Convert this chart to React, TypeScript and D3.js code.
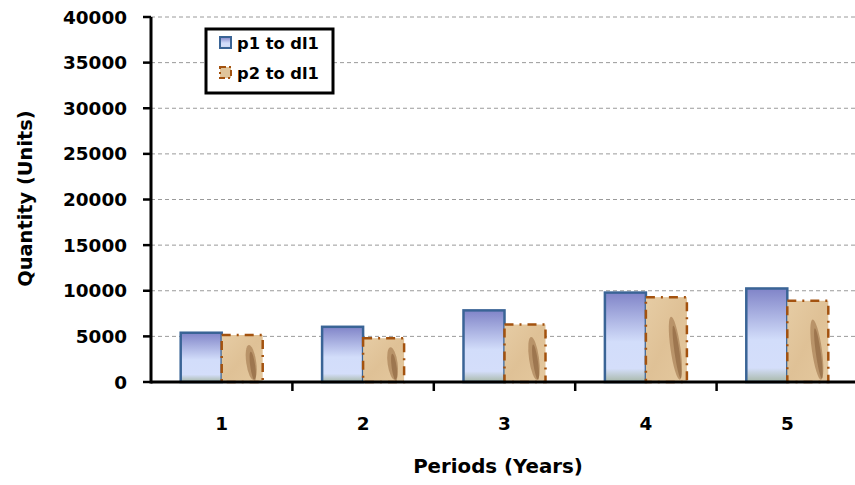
import React from "react";
import * as d3 from "d3";

const categories = ["1", "2", "3", "4", "5"];
const seriesNames = ["p1 to dl1", "p2 to dl1"];
const p1Values = [5400, 6050, 7850, 9800, 10250];
const p2Values = [5150, 4800, 6300, 9300, 8900];
const yTicks = [0, 5000, 10000, 15000, 20000, 25000, 30000, 35000, 40000];

const W = 855;
const H = 485;
const FONT = "'DejaVu Sans', sans-serif";

export default function App() {
  const left = 151;
  const top = 17;
  const bottom = 382;
  const right = 858;

  const y = d3.scaleLinear().domain([0, 40000]).range([bottom, top]);
  const x = d3.scaleBand<string>().domain(categories).range([left, right]).paddingInner(0).paddingOuter(0);
  const bw = x.bandwidth();
  const barW = bw * 0.29;

  const feather = (bx: number, by: number, w: number, h: number, i: number) => {
    const cx = bx + w * 0.72;
    const fh = Math.min(h * 0.75, 75);
    const cy = bottom - fh / 2 - 2;
    return (
      <g clipPath={`url(#clip-p2-${i})`}>
        <ellipse cx={cx} cy={cy} rx={5} ry={fh / 2} fill="#8a5a30" opacity={0.45} transform={`rotate(-8 ${cx} ${cy})`} />
        <ellipse cx={cx + 1} cy={cy + 4} rx={2.5} ry={fh / 2.4} fill="#6b3f1c" opacity={0.35} transform={`rotate(-8 ${cx} ${cy})`} />
      </g>
    );
  };

  return (
    <svg width={W} height={H} style={{ position: "absolute", left: 0, top: 0, background: "#fff" }}>
      <defs>
        <linearGradient id="gBlue" x1="0" y1="0" x2="0" y2="1">
          <stop offset="0" stopColor="#8084c8" />
          <stop offset="0.55" stopColor="#d2ddfa" />
          <stop offset="0.85" stopColor="#d4defa" />
          <stop offset="1" stopColor="#a8b8a8" />
        </linearGradient>
        <linearGradient id="gTan" x1="0" y1="0" x2="1" y2="1">
          <stop offset="0" stopColor="#e6cca4" />
          <stop offset="0.5" stopColor="#dfc196" />
          <stop offset="1" stopColor="#e4c89e" />
        </linearGradient>
        {categories.map((c, i) => {
          const bx = (x(c) as number) + bw / 2;
          const by = y(p2Values[i]);
          return (
            <clipPath id={`clip-p2-${i}`} key={c}>
              <rect x={bx} y={by} width={barW} height={bottom - by} />
            </clipPath>
          );
        })}
      </defs>

      {/* gridlines */}
      {yTicks.filter((t) => t > 0).map((t) => (
        <line key={t} x1={left} x2={W} y1={y(t)} y2={y(t)} stroke="#9a9a9a" strokeWidth={1} strokeDasharray="4 3" />
      ))}

      {/* bars */}
      {categories.map((c, i) => {
        const cx = (x(c) as number) + bw / 2;
        const y1 = y(p1Values[i]);
        const y2 = y(p2Values[i]);
        return (
          <g key={c}>
            <rect x={cx - barW} y={y1} width={barW} height={bottom - y1} fill="url(#gBlue)" stroke="#3a6496" strokeWidth={2.5} />
            <rect x={cx} y={y2} width={barW} height={bottom - y2} fill="url(#gTan)" />
            {feather(cx, y2, barW, bottom - y2, i)}
            <rect x={cx} y={y2} width={barW} height={bottom - y2} fill="none" stroke="#a3520f" strokeWidth={2.5} strokeDasharray="9 6 2 6" />
          </g>
        );
      })}

      {/* y axis */}
      <line x1={left} x2={left} y1={top} y2={bottom + 1.5} stroke="#000" strokeWidth={3} />
      {yTicks.map((t) => (
        <g key={t}>
          <line x1={left - 8} x2={left} y1={y(t)} y2={y(t)} stroke="#000" strokeWidth={2.5} />
          <text x={127} y={y(t)} dy="0.36em" textAnchor="end" fontFamily={FONT} fontWeight="bold" fontSize={18.4} fill="#000">
            {t}
          </text>
        </g>
      ))}

      {/* x axis */}
      <line x1={left} x2={W} y1={bottom} y2={bottom} stroke="#000" strokeWidth={3} />
      {categories.map((c, i) => (
        <line key={"t" + c} x1={left + bw * (i + 1)} x2={left + bw * (i + 1)} y1={bottom} y2={bottom + 9} stroke="#000" strokeWidth={2.5} />
      ))}
      {categories.map((c) => (
        <text key={"l" + c} x={(x(c) as number) + bw / 2} y={423} dy="0.36em" textAnchor="middle" fontFamily={FONT} fontWeight="bold" fontSize={18.4} fill="#000">
          {c}
        </text>
      ))}

      {/* axis titles */}
      <text x={498} y={466} dy="0.36em" textAnchor="middle" fontFamily={FONT} fontWeight="bold" fontSize={19.8} fill="#000">
        Periods (Years)
      </text>
      <text transform={`translate(25,198.5) rotate(-90)`} dy="0.36em" textAnchor="middle" fontFamily={FONT} fontWeight="bold" fontSize={19.4} fill="#000">
        Quantity (Units)
      </text>

      {/* legend */}
      <rect x={206} y={29} width={127} height={64} fill="#fff" stroke="#000" strokeWidth={3} />
      <rect x={220} y={37} width={11} height={11} fill="url(#gBlue)" stroke="#3a6496" strokeWidth={2} />
      <rect x={220} y={67} width={11} height={11} fill="#e0c49a" stroke="#a3520f" strokeWidth={2} strokeDasharray="6 3 2 3" />
      <text x={237} y={43} dy="0.36em" fontFamily={FONT} fontWeight="bold" fontSize={16.3} fill="#000">
        {seriesNames[0]}
      </text>
      <text x={237} y={73} dy="0.36em" fontFamily={FONT} fontWeight="bold" fontSize={16.3} fill="#000">
        {seriesNames[1]}
      </text>
    </svg>
  );
}
